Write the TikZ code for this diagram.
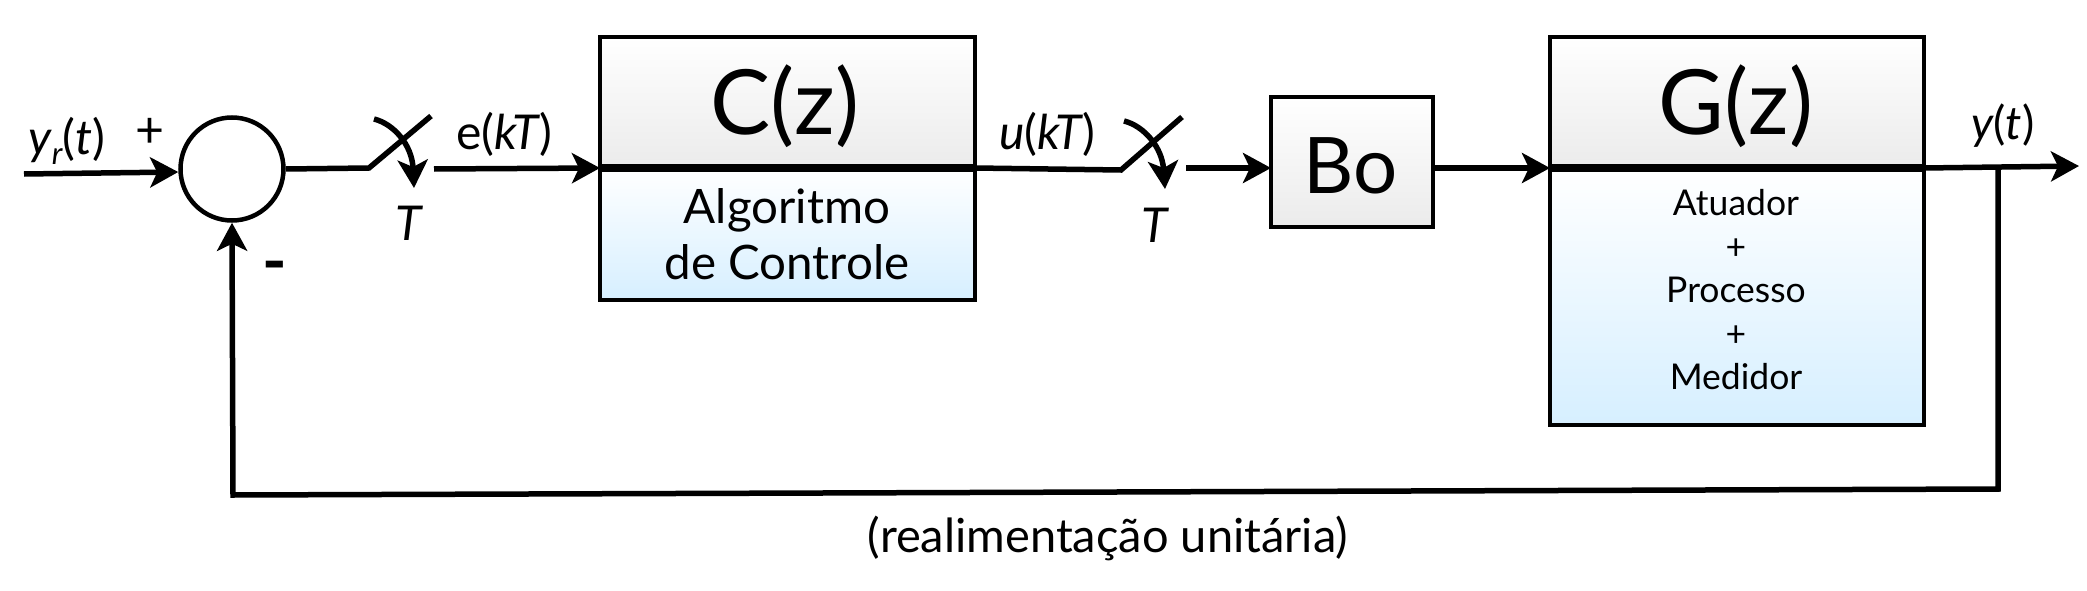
\documentclass[tikz,border=0pt]{standalone}
\usepackage{fontspec}
\setmainfont{Lato}
\usetikzlibrary{arrows.meta}
\definecolor{bodyblue}{HTML}{D6EFFF}
\definecolor{headgrey}{HTML}{EBEBEB}
\tikzset{
  x=1pt,y=-1pt,
  wire/.style={line width=5.5pt,line cap=butt,line join=miter},
  arr/.style={wire,-{Stealth[length=28pt,width=30pt,inset=7pt]}},
  headbox/.style={draw=black,line width=4.5pt,outer sep=0pt,top color=white,bottom color=headgrey,inner sep=0pt,minimum width=#1,anchor=north west},
  bodybox/.style={draw=black,line width=4.5pt,outer sep=0pt,top color=white,bottom color=bodyblue,inner sep=0pt,minimum width=#1,anchor=north west},
  lab/.style={inner sep=0pt,anchor=center,font=\fontsize{48}{48}\selectfont},
  body/.style={inner sep=0pt,anchor=center,align=center},
}
\begin{document}
\begin{tikzpicture}
\useasboundingbox (0,0) rectangle (2087,591);
% blocks
\node[headbox=375pt,minimum height=131pt] (Ctop) at (600,37) {};
\node[bodybox=375pt,minimum height=132pt] (Cbot) at (600,168) {};
\node[headbox=374pt,minimum height=131pt] (Gtop) at (1550,37) {};
\node[bodybox=374pt,minimum height=257pt] (Gbot) at (1550,168) {};
\node[headbox=162pt,minimum height=130pt] (Bo) at (1271,97) {};
\node[inner sep=0pt,font=\fontsize{90}{90}\selectfont] (Ctxt) at (785,106) {C(z)};
\node[inner sep=0pt,font=\fontsize{90}{90}\selectfont] (Gtxt) at (1736,106) {G(z)};
\node[inner sep=0pt,font=\fontsize{78}{78}\selectfont] (Botxt) at (1351,166) {Bo};
\node[body,font=\fontsize{47.5}{56}\selectfont] (Calg) at (787,234) {Algoritmo\\de Controle};
\node[body,font=\fontsize{35.5}{43.5}\selectfont] (Gtx) at (1736,290) {Atuador\\+\\Processo\\+\\Medidor};
\draw[line width=8pt] (Ctop.south west) -- (Ctop.south east);
\draw[line width=8pt] (Gtop.south west) -- (Gtop.south east);
% summing junction
\node[circle,draw=black,line width=4.5pt,fill=white,minimum size=103pt,inner sep=0pt] (sum) at (232,169) {};
% free ends
\coordinate (in) at (24,174);
\coordinate (s1a) at (369,168);
\coordinate (s1b) at (431,116);
\coordinate (s1o) at (434,169);
\coordinate (s1c) at (374,119);
\coordinate (s1t) at (414,188);
\coordinate (s2a) at (1121,170);
\coordinate (s2b) at (1182,117);
\coordinate (s2o) at (1186,168);
\coordinate (s2c) at (1124,121);
\coordinate (s2t) at (1165,189);
\coordinate (outend) at (2079,166);
\coordinate (tap) at (1998,167);
\coordinate (fb1) at (1998,489);
\coordinate (fb2) at (233,495);
% connectors
\draw[arr] (in) -- (sum.west |- 0,172);
\draw[wire] (sum.east) -- (s1a) -- (s1b);
\draw[arr] (s1c) .. controls (394,124) and (412,145) .. (s1t);
\draw[arr] (s1o) -- (Ctop.south west);
\draw[wire] (Ctop.south east) -- (s2a) -- (s2b);
\draw[arr] (s2c) .. controls (1144,126) and (1162,147) .. (s2t);
\draw[arr] (s2o) -- (Bo.west |- s2o);
\draw[arr] (Bo.east |- s2o) -- (Gtop.south west);
\draw[arr] (Gtop.south east) -- (outend);
\draw[arr] (tap) -- (fb1) -- (fb2) -- (sum.south);
% labels
\node[lab] (yr) at (67,141) {\itshape y\raisebox{-0.22em}{\fontsize{31}{31}\selectfont r}\upshape(\itshape t\upshape)};
\node[inner sep=0pt,font=\fontsize{50}{50}\selectfont] (plus) at (150,133) {+};
\node[inner sep=0pt,font=\fontsize{66}{66}\bfseries\selectfont] (minus) at (275,273) {-};
\node[lab] (T1) at (409,223) {\itshape T};
\node[lab] (e) at (504,134) {e(\itshape kT\upshape)};
\node[lab] (u) at (1047,134) {\itshape u\upshape(\itshape kT\upshape)};
\node[lab] (T2) at (1155,225) {\itshape T};
\node[lab,font=\fontsize{46}{46}\selectfont] (y) at (2003,126) {\itshape y\upshape(\itshape t\upshape)};
\node[inner sep=0pt,font=\fontsize{47}{47}\selectfont] (fbtxt) at (1108,538) {(realimentação unitária)};
\end{tikzpicture}
\end{document}
